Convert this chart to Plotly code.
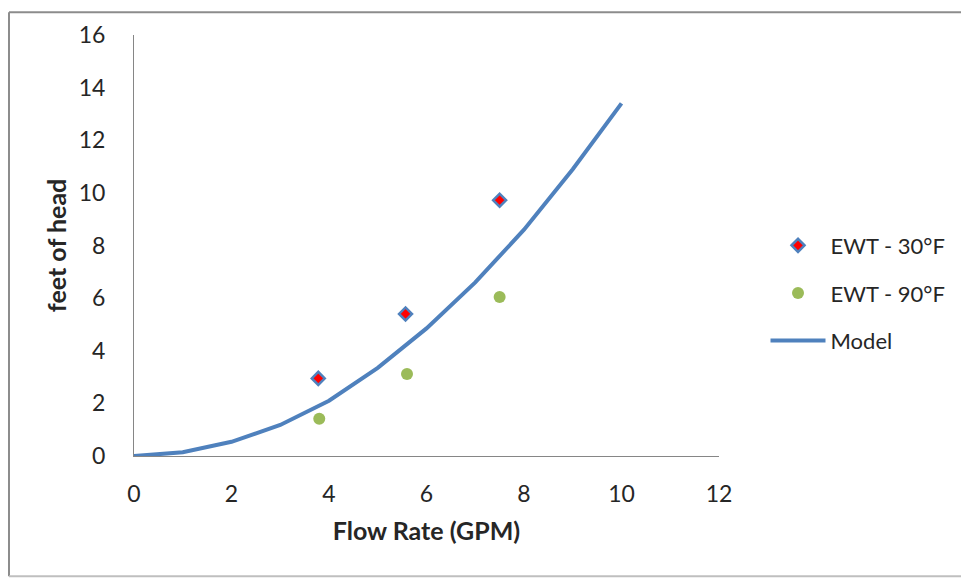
import plotly.graph_objects as go

# Data
ewt30_x = [3.78, 5.57, 7.5]
ewt30_y = [2.95, 5.4, 9.72]
ewt90_x = [3.8, 5.6, 7.5]
ewt90_y = [1.42, 3.12, 6.04]
model_x = [0, 1, 2, 3, 4, 5, 6, 7, 8, 9, 10]
model_y = [0, 0.14, 0.54, 1.18, 2.1, 3.35, 4.85, 6.6, 8.6, 10.9, 13.4]
x_ticks = [0, 2, 4, 6, 8, 10, 12]
y_ticks = [0, 2, 4, 6, 8, 10, 12, 14, 16]

FONT = "Lato, Calibri, sans-serif"
BLUE = "#4F81BD"
GREEN = "#9BBB59"

fig = go.Figure()
fig.add_trace(go.Scatter(
    x=ewt30_x, y=ewt30_y, mode="markers", name="EWT - 30°F",
    legendgroup="a",
    marker=dict(symbol="diamond", size=10, color="#FF0000",
                line=dict(color=BLUE, width=2.5)),
))
fig.add_trace(go.Scatter(
    x=ewt90_x, y=ewt90_y, mode="markers", name="EWT - 90°F",
    legendgroup="b",
    marker=dict(symbol="circle", size=12, color=GREEN, line=dict(width=0)),
))
fig.add_trace(go.Scatter(
    x=model_x, y=model_y, mode="lines", name="Model",
    legendgroup="c",
    line=dict(color=BLUE, width=4),
))

fig.update_layout(
    width=969, height=579,
    margin=dict(l=126, r=258, t=24, b=131),
    paper_bgcolor="white", plot_bgcolor="white",
    font=dict(family=FONT, size=23, color="#262626"),
    legend=dict(x=1.0795, y=0.387, xanchor="left", yanchor="middle",
                font=dict(size=22, color="#262626"),
                itemwidth=55,
                tracegroupgap=16, bgcolor="rgba(0,0,0,0)"),
    xaxis=dict(range=[0, 12], tickvals=x_ticks, showgrid=False, zeroline=False,
               showline=True, linecolor="#868686", linewidth=1, ticks="",
               ticklabelstandoff=17,
               title=dict(text="<b>Flow Rate (GPM)</b>", font=dict(size=25), standoff=16)),
    yaxis=dict(range=[0, 16], tickvals=y_ticks, showgrid=False, zeroline=False,
               showline=True, linecolor="#868686", linewidth=1, ticks="",
               ticklabelstandoff=23,
               title=dict(text="<b>feet of head</b>", font=dict(size=25), standoff=4)),
    showlegend=True,
)

# Chart-area border (top, left, bottom; right edge lies outside the window)
border = dict(color="#8c8c8c", width=2)
fig.add_shape(type="line", xref="paper", yref="paper",
              x0=-0.2137, x1=1.5, y0=1.054, y1=1.054, line=border, layer="below")
fig.add_shape(type="line", xref="paper", yref="paper",
              x0=-0.2137, x1=-0.2137, y0=-0.2854, y1=1.054, line=border, layer="below")
fig.add_shape(type="line", xref="paper", yref="paper",
              x0=-0.2137, x1=1.5, y0=-0.2854, y1=-0.2854,
              line=dict(color="#bfbfbf", width=2), layer="below")

fig.write_html("out.html")
